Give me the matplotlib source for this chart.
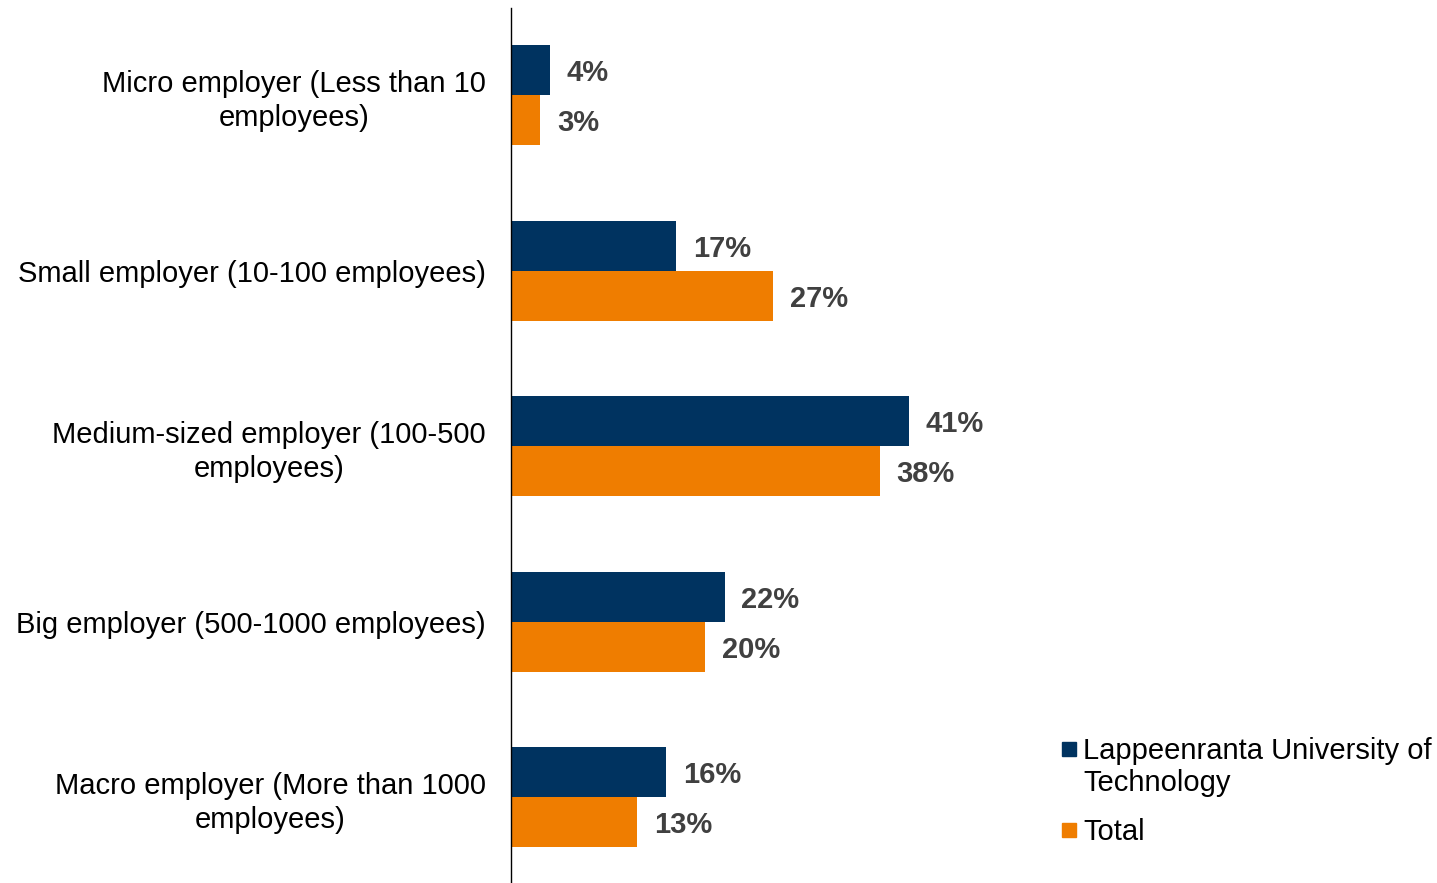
import numpy as np
import matplotlib
matplotlib.use("Agg")
import matplotlib.pyplot as plt
from matplotlib.patches import Rectangle

# Données
categories = [
    "Micro employer (Less than 10\nemployees)",
    "Small employer (10-100 employees)",
    "Medium-sized employer (100-500\nemployees)",
    "Big employer (500-1000 employees)",
    "Macro employer (More than 1000\nemployees)",
]
lut = [4, 17, 41, 22, 16]
total = [3, 27, 38, 20, 13]
series_names = ["Lappeenranta University of\nTechnology", "Total"]

navy = "#003360"
orange = "#EF7D00"

plt.rcParams['font.family'] = ['Liberation Sans', 'DejaVu Sans']

W, H = 1437, 883
fig = plt.figure(figsize=(W / 100, H / 100), dpi=100)
ax = fig.add_axes([511 / W, 0, (1040 - 511) / W, 1 - 8 / H])

y = np.arange(len(categories))
h = 0.285
b1 = ax.barh(y - h / 2, lut, height=h, color=navy)
b2 = ax.barh(y + h / 2, total, height=h, color=orange)

for bars, vals in [(b1, lut), (b2, total)]:
    for bar, v in zip(bars, vals):
        ax.annotate(f"{v}%", (bar.get_width(), bar.get_y() + bar.get_height() / 2),
                    xytext=(12, 0), textcoords="offset points",
                    va="center_baseline", ha="left", fontsize=21, fontweight="bold",
                    color="#404040")

ax.set_xlim(0, 54.5)
ax.set_ylim(4.49, -0.496)
ax.set_yticks(y)
ax.set_yticklabels(categories, fontsize=21, linespacing=1.25)
for lbl in ax.get_yticklabels():
    lbl.set_multialignment("center")
ax.tick_params(axis="y", length=0, pad=18)
ax.set_xticks([])
for s in ["top", "right", "bottom"]:
    ax.spines[s].set_visible(False)
ax.spines["left"].set_linewidth(1.0)

# Légende
legend_items = [(navy, series_names[0], 742), (orange, series_names[1], 823)]
for color, name, top in legend_items:
    fig.patches.append(Rectangle((1062 / W, 1 - (top + 14) / H), 14 / W, 14 / H,
                                 transform=fig.transFigure, color=color))
    fig.text(1083 / W, 1 - (top - 5) / H, name, fontsize=21, va="top", ha="left",
             linespacing=1.18)

fig.savefig("out.png", dpi=100)
